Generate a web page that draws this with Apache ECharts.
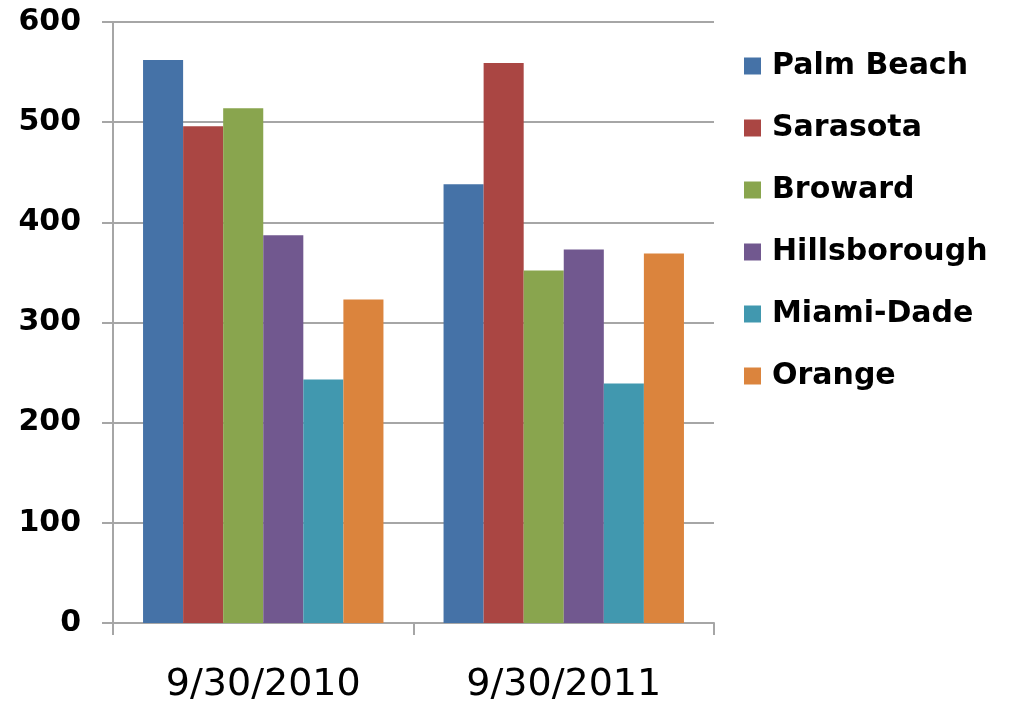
<!DOCTYPE html>
<html>
<head>
<meta charset="utf-8">
<script src="https://cdn.jsdelivr.net/npm/echarts@6/dist/echarts.min.js"></script>
<style>html,body{margin:0;padding:0;background:#fff}#c{width:1013px;height:705px}</style>
</head>
<body>
<div id="c"></div>
<script>
const categories = ['9/30/2010', '9/30/2011'];
const seriesNames = ['Palm Beach', 'Sarasota', 'Broward', 'Hillsborough', 'Miami-Dade', 'Orange'];
const palmBeach = [562, 438];
const sarasota = [496, 559];
const broward = [514, 352];
const hillsborough = [387, 373];
const miamiDade = [243, 239];
const orange = [323, 369];
const yTicks = [0, 100, 200, 300, 400, 500, 600];
const colors = ['#4572A7', '#AA4643', '#89A54E', '#71588F', '#4198AF', '#DB843D'];

const values = [palmBeach, sarasota, broward, hillsborough, miamiDade, orange];
const gridColor = '#a6a6a6';

const chart = echarts.init(document.getElementById('c'), null, {renderer: 'canvas'});
chart.setOption({
  animation: false,
  color: colors,
  grid: {left: 113, right: 299, top: 22, bottom: 82, containLabel: false},
  legend: {
    orient: 'vertical',
    left: 744,
    top: 51,
    padding: 0,
    itemWidth: 17,
    itemHeight: 17,
    itemGap: 32,
    icon: 'rect',
    textStyle: {fontFamily: 'DejaVu Sans', fontWeight: 'bold', fontSize: 30, lineHeight: 30, color: '#000', padding: [0, 0, 0, 6]},
    data: seriesNames
  },
  xAxis: {
    type: 'category',
    data: categories,
    axisLine: {lineStyle: {color: gridColor, width: 2}},
    axisTick: {show: true, length: 12, lineStyle: {color: gridColor, width: 2}},
    axisLabel: {fontFamily: 'DejaVu Sans', fontSize: 38, color: '#000', margin: 43}
  },
  yAxis: {
    type: 'value',
    min: yTicks[0],
    max: yTicks[yTicks.length - 1],
    interval: 100,
    axisLine: {show: true, lineStyle: {color: gridColor, width: 2}},
    axisTick: {show: true, length: 11, lineStyle: {color: gridColor, width: 2}},
    splitLine: {lineStyle: {color: gridColor, width: 2}},
    axisLabel: {fontFamily: 'DejaVu Sans', fontWeight: 'bold', fontSize: 30, color: '#000', margin: 32}
  },
  series: seriesNames.map((name, i) => ({
    name: name,
    type: 'bar',
    data: values[i],
    barGap: '0%',
    barCategoryGap: '20%',
    itemStyle: {color: colors[i]}
  }))
});
</script>
</body>
</html>
